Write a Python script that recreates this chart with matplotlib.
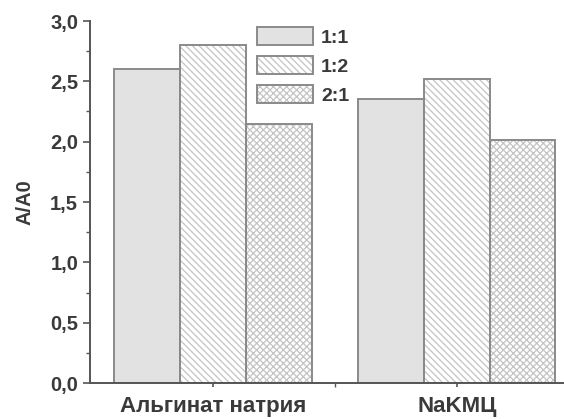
import matplotlib
matplotlib.use("Agg")
import matplotlib.pyplot as plt
from matplotlib.ticker import MultipleLocator, FuncFormatter, FixedLocator
from matplotlib.patches import Patch

plt.rcParams['font.family'] = ['Liberation Sans', 'DejaVu Sans']
plt.rcParams['hatch.linewidth'] = 0.9

categories = ["Альгинат натрия", "NaKMЦ"]
series_names = ["1:1", "1:2", "2:1"]
values = {
    "1:1": [2.60, 2.35],
    "1:2": [2.80, 2.52],
    "2:1": [2.15, 2.01],
}

fills = ["#e2e2e2", "white", "white"]
hatches = [None, "\\\\\\\\\\", "xxxxx"]
hatch_ink = "#c4c4c4"
edge = "#8a8a8a"
ink = "#3a3a3a"

fig = plt.figure(figsize=(5.64, 4.19), dpi=100)
ax = fig.add_axes([90 / 564, 1 - 383 / 419, 1 - 90 / 564, (383 - 21) / 419])

width = 0.27
positions = [1, 2]
for i, name in enumerate(series_names):
    xs = [p + (i - 1) * width for p in positions]
    # fill and hatch in a light grey, then the darker outline on top
    ax.bar(xs, values[name], width=width, color=fills[i], hatch=hatches[i],
           edgecolor=hatch_ink, linewidth=0, zorder=2)
    ax.bar(xs, values[name], width=width, fill=False,
           edgecolor=edge, linewidth=1.4, zorder=3)

ax.set_xlim(0.496, 2.44)
ax.set_ylim(0, 3.0)

ax.spines['top'].set_visible(False)
ax.spines['right'].set_visible(False)
for s in ('left', 'bottom'):
    ax.spines[s].set_color("#555555")
    ax.spines[s].set_linewidth(1.4)
    ax.spines[s].set_zorder(4)

ax.yaxis.set_major_locator(MultipleLocator(0.5))
ax.yaxis.set_minor_locator(MultipleLocator(0.25))
ax.yaxis.set_major_formatter(FuncFormatter(lambda v, p: f"{v:.1f}".replace(".", ",")))
ax.set_xticks(positions)
ax.set_xticklabels(categories, fontsize=16, fontweight='bold')
ax.xaxis.set_minor_locator(FixedLocator([1.5]))

ax.tick_params(axis='both', which='major', direction='out', length=5, width=1.2,
               color="#555555", labelsize=14.5, labelcolor=ink)
ax.tick_params(axis='both', which='minor', direction='out', length=3, width=1.0,
               color="#555555")
ax.tick_params(axis='x', which='major', length=3, pad=6, labelsize=16)
for lbl in ax.get_yticklabels():
    lbl.set_fontweight('bold')
ax.set_ylabel("A/A0", fontsize=14.5, fontweight='bold', color=ink, labelpad=11)

# legend keys: light hatch underneath, darker outline on top
handles = []
for i in range(3):
    under = Patch(facecolor=fills[i], hatch=hatches[i], edgecolor=hatch_ink, linewidth=0)
    outline = Patch(fill=False, edgecolor=edge, linewidth=1.4)
    handles.append((under, outline))
leg = ax.legend(handles, series_names, loc='upper left',
                bbox_to_anchor=(257 / 564, 1 - 27 / 419), bbox_transform=fig.transFigure,
                borderpad=0, borderaxespad=0, frameon=False,
                prop={'size': 14, 'weight': 'bold'}, handlelength=2.9,
                handleheight=1.03, labelspacing=0.49, handletextpad=0.4,
                labelcolor=ink)

fig.savefig("out.png", dpi=100)
